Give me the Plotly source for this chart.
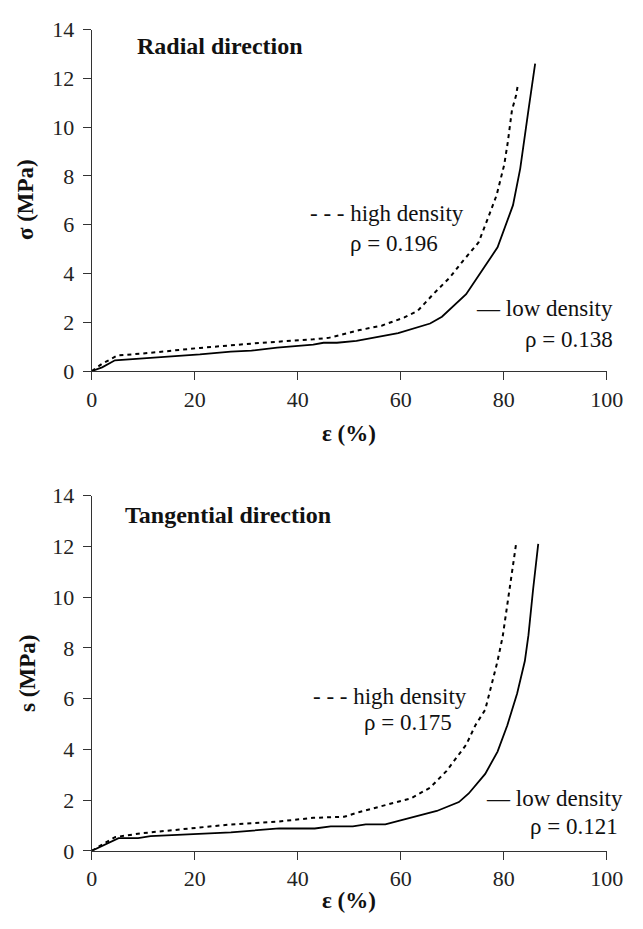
import plotly.graph_objects as go

# ---- data ----
radial_high_x = [0, 2, 5, 10, 21, 33, 43, 46, 52, 56.4, 60.7, 63.3, 66.3, 69.5, 71.9, 75.1, 77, 78.6, 80.1, 80.8, 81.6, 82.4, 82.8]
radial_high_y = [0, 0.3, 0.64, 0.72, 0.95, 1.16, 1.3, 1.36, 1.68, 1.87, 2.2, 2.47, 3.15, 3.83, 4.47, 5.27, 6.3, 7.2, 8.46, 9.4, 10.7, 11.3, 11.8]
radial_low_x = [0, 2, 4.5, 10, 21, 27, 31, 36, 43, 45, 47.6, 51.4, 59.5, 65.7, 68, 72.7, 75.7, 78.8, 81.8, 83.2, 84.8, 86.1]
radial_low_y = [0, 0.15, 0.44, 0.52, 0.68, 0.8, 0.84, 0.96, 1.08, 1.16, 1.16, 1.24, 1.56, 1.95, 2.23, 3.15, 4.07, 5.07, 6.8, 8.3, 10.7, 12.6]

tang_high_x = [0, 2, 4.5, 9.6, 21, 27, 36, 43, 49, 52, 57, 62, 65.7, 68.9, 72.7, 74.5, 76.4, 78.8, 79.8, 81, 82.4]
tang_high_y = [0, 0.25, 0.54, 0.69, 0.92, 1.04, 1.15, 1.3, 1.34, 1.53, 1.8, 2.07, 2.49, 3.15, 4.18, 4.95, 5.56, 7.48, 8.45, 10.2, 12.1]
tang_low_x = [0, 2, 5.2, 9, 11.4, 27, 36.4, 43.3, 46.4, 50.7, 53.2, 57, 62, 67, 71.3, 73.2, 76.4, 78.8, 80.7, 82.6, 84.1, 84.8, 85.7, 86.7]
tang_low_y = [0, 0.2, 0.5, 0.5, 0.58, 0.73, 0.88, 0.88, 0.96, 0.96, 1.04, 1.04, 1.3, 1.57, 1.92, 2.26, 3.03, 3.91, 4.95, 6.2, 7.48, 8.5, 10.3, 12.1]

x_ticks = [0, 20, 40, 60, 80, 100]
y_ticks = [0, 2, 4, 6, 8, 10, 12, 14]

W, H = 643, 929
FONT = "Liberation Serif, Times New Roman, serif"


def px(x):
    return x / W


def py(y):
    return 1 - y / H


fig = go.Figure()
line_solid = dict(color="black", width=1.8)
line_dash = dict(color="black", width=2, dash="4px,4px")

fig.add_trace(go.Scatter(x=radial_high_x, y=radial_high_y, mode="lines", line=line_dash, xaxis="x", yaxis="y"))
fig.add_trace(go.Scatter(x=radial_low_x, y=radial_low_y, mode="lines", line=line_solid, xaxis="x", yaxis="y"))
fig.add_trace(go.Scatter(x=tang_high_x, y=tang_high_y, mode="lines", line=line_dash, xaxis="x2", yaxis="y2"))
fig.add_trace(go.Scatter(x=tang_low_x, y=tang_low_y, mode="lines", line=line_solid, xaxis="x2", yaxis="y2"))

axis_common = dict(
    showgrid=False, zeroline=False, showline=True, linecolor="#333", linewidth=1.3,
    ticks="outside", ticklen=8, tickwidth=1.3, tickcolor="#333",
    tickfont=dict(family=FONT, size=22, color="#222"),
)

xdom = [px(89), px(623)]
fig.update_layout(
    width=W, height=H, margin=dict(l=0, r=0, t=0, b=0),
    paper_bgcolor="white", plot_bgcolor="white", showlegend=False,
    font=dict(family=FONT),
    xaxis=dict(domain=xdom, range=[0, 100], tickvals=x_ticks, anchor="y", **axis_common),
    yaxis=dict(domain=[py(369), py(18)], range=[0, 14], tickvals=y_ticks, anchor="x", ticklabelstandoff=4, **axis_common),
    xaxis2=dict(domain=xdom, range=[0, 100], tickvals=x_ticks, anchor="y2", **axis_common),
    yaxis2=dict(domain=[py(862), py(497)], range=[0, 14], tickvals=y_ticks, anchor="x2", ticklabelstandoff=4, **axis_common),
)

ann = []


def text(t, x, y, xa="left", size=23, bold=False, angle=0):
    if bold:
        t = "<b>" + t + "</b>"
    ann.append(dict(text=t, x=px(x), y=py(y), xref="paper", yref="paper", xanchor=xa, yanchor="middle",
                    showarrow=False, textangle=angle, font=dict(family=FONT, size=size, color="#111")))


# titles
text("Radial direction", 134, 35, bold=True, size=24)
text("Tangential direction", 121, 517, bold=True, size=24)
# axis titles
text("ε (%)", 356, 433, xa="center", bold=True, size=23)
text("ε (%)", 356, 913, xa="center", bold=True, size=23)
text("σ (MPa)", 21, 193, xa="center", bold=True, size=23, angle=-90)
text("s (MPa)", 23, 680, xa="center", bold=True, size=23, angle=-90)
# legend-like annotations, top
text("- - - high density", 477, 207, xa="right")
text("ρ = 0.196", 450, 238, xa="right")
text("— low density", 632, 305, xa="right")
text("ρ = 0.138", 632, 337, xa="right")
# bottom
text("- - - high density", 480, 703, xa="right")
text("ρ = 0.175", 465, 730, xa="right")
text("— low density", 642, 808, xa="right")
text("ρ = 0.121", 637, 837, xa="right")

fig.update_layout(annotations=ann)
fig.write_html("out.html")
